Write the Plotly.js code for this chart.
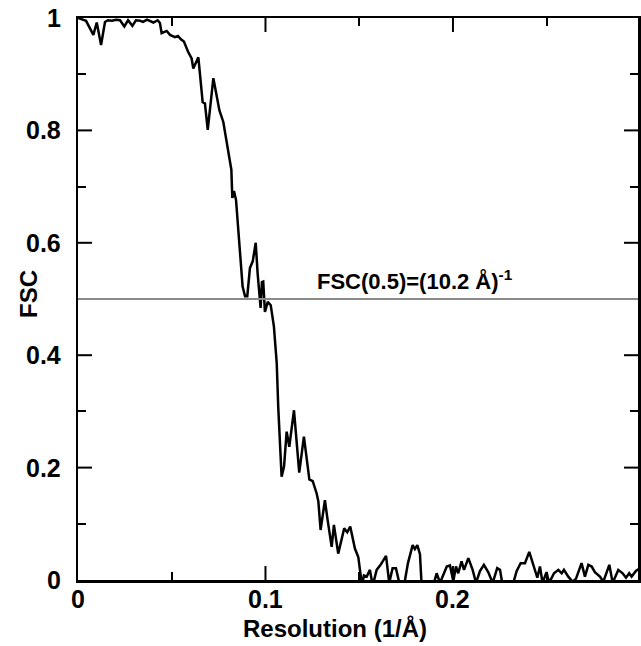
<!DOCTYPE html>
<html>
<head>
<meta charset="utf-8">
<script src="https://cdn.plot.ly/plotly-3.0.1.min.js"></script>
<style>
  html, body { margin: 0; padding: 0; background: #fff; }
  #chart { width: 641px; height: 646px; }
</style>
</head>
<body>
<div id="chart"></div>
<script>
// Resolution (1/Å)
const resolution = [
  0, 0.0021, 0.0043, 0.0082, 0.0100, 0.0123, 0.0144, 0.0160, 0.0181, 0.0203,
  0.0224, 0.0247, 0.0267, 0.0290, 0.0309, 0.0331, 0.0347, 0.0368, 0.0384, 0.0402,
  0.0425, 0.0437, 0.0446, 0.0460, 0.0473, 0.0491, 0.0517, 0.0533, 0.0549, 0.0565,
  0.0587, 0.0606, 0.0615, 0.0642, 0.0665, 0.0677, 0.0692, 0.0722, 0.0754, 0.0775,
  0.0802, 0.0818, 0.0823, 0.0832, 0.0843, 0.0860, 0.0878, 0.0891, 0.0903, 0.0917,
  0.0932, 0.0948, 0.0958, 0.0974, 0.0981, 0.0988, 0.0997, 0.1012, 0.1028, 0.1045,
  0.1060, 0.1068, 0.1077, 0.1086, 0.1099, 0.1113, 0.1127, 0.1152, 0.1180, 0.1205,
  0.1234, 0.1252, 0.1273, 0.1282, 0.1294, 0.1317, 0.1330, 0.1353, 0.1365, 0.1388,
  0.1420, 0.1436, 0.1452, 0.1477, 0.1495, 0.1508, 0.1515, 0.1525, 0.1540, 0.1557,
  0.1572, 0.1593, 0.1614, 0.1643, 0.1660, 0.1678, 0.1696, 0.1717, 0.1739, 0.1760,
  0.1785, 0.1797, 0.1810, 0.1824, 0.1833, 0.1861, 0.1895, 0.1913, 0.1931, 0.1967,
  0.1984, 0.2002, 0.2016, 0.2028, 0.2046, 0.2059, 0.2082, 0.2105, 0.2123, 0.2144,
  0.2165, 0.2188, 0.2197, 0.2212, 0.2236, 0.2251, 0.2265, 0.2293, 0.2322, 0.2340,
  0.2361, 0.2384, 0.2407, 0.2425, 0.2437, 0.2450, 0.2464, 0.2478, 0.2499, 0.2513,
  0.2539, 0.2562, 0.2580, 0.2592, 0.2615, 0.2638, 0.2656, 0.2686, 0.2704, 0.2722,
  0.2740, 0.2757, 0.2784, 0.2802, 0.2834, 0.2852, 0.2882, 0.2905, 0.2923, 0.2940,
  0.2953, 0.2976, 0.2997
];
// FSC values
const fsc = [
  1.000, 0.998, 0.995, 0.970, 0.992, 0.952, 0.993, 0.996, 0.995, 0.997,
  0.996, 0.985, 0.996, 0.986, 0.996, 0.995, 0.993, 0.997, 0.995, 0.992,
  0.996, 0.991, 0.973, 0.975, 0.977, 0.970, 0.966, 0.968, 0.962, 0.958,
  0.940, 0.928, 0.910, 0.930, 0.850, 0.848, 0.801, 0.893, 0.836, 0.815,
  0.765, 0.730, 0.680, 0.692, 0.676, 0.593, 0.522, 0.505, 0.505, 0.555,
  0.567, 0.600, 0.546, 0.484, 0.530, 0.531, 0.477, 0.495, 0.489, 0.451,
  0.386, 0.308, 0.237, 0.184, 0.202, 0.264, 0.237, 0.302, 0.191, 0.255,
  0.179, 0.176, 0.154, 0.140, 0.089, 0.142, 0.110, 0.059, 0.098, 0.047,
  0.092, 0.085, 0.095, 0.056, 0.041, 0.012, -0.010, 0.008, 0.006, 0.018,
  -0.010, 0.018, 0.027, 0.043, -0.005, 0.021, 0.021, -0.010, -0.010, 0.030,
  0.062, 0.055, 0.062, 0.046, -0.010, -0.020, -0.010, 0.012, -0.005, 0.024,
  0.026, -0.002, 0.024, 0.012, 0.033, 0.018, 0.039, 0.018, -0.005, 0.016,
  0.027, 0.014, 0.008, -0.005, 0.021, 0.018, -0.010, -0.020, -0.005, 0.016,
  0.030, 0.030, 0.050, 0.030, 0.014, 0.004, 0.024, -0.005, 0.014, -0.005,
  0.012, 0.018, 0.012, 0.018, 0.006, -0.003, 0.002, 0.030, 0.006, 0.027,
  0.024, 0.014, 0.006, -0.003, 0.027, -0.005, 0.018, 0.012, 0.004, 0.012,
  0.006, 0.016, 0.021
];
const thresholdValue = 0.5;
const annotationText = 'FSC(0.5)=(10.2 Å)<sup>-1</sup>';
const xTitle = 'Resolution (1/Å)';
const yTitle = 'FSC';
const xMajorTicks = [0, 0.1, 0.2];
const xTickLabels = ['0', '0.1', '0.2'];
const xMinorTicks = [0.05, 0.15, 0.25];
const yMajorTicks = [0, 0.2, 0.4, 0.6, 0.8, 1];
const yTickLabels = ['0', '0.2', '0.4', '0.6', '0.8', '1'];
const yMinorTicks = [0.1, 0.3, 0.5, 0.7, 0.9];

const FONT = 'Liberation Sans, Arial, Helvetica, sans-serif';
const X_RANGE = [0, 0.2987];
const Y_RANGE = [0, 1];
const W = 641, H = 646;
const MARGIN = { l: 78, r: 3, t: 18, b: 66 };
const MAJOR_LEN_PX = 14;

const trace = {
  x: resolution,
  y: fsc,
  type: 'scatter',
  mode: 'lines',
  line: { color: '#000', width: 2.5 },
  hoverinfo: 'skip'
};

// Major tick marks drawn as short line segments on the main axes (inside, all four sides)
const plotW = W - MARGIN.l - MARGIN.r;
const plotH = H - MARGIN.t - MARGIN.b;
const tickLenX = MAJOR_LEN_PX * (X_RANGE[1] - X_RANGE[0]) / plotW;
const tickLenY = MAJOR_LEN_PX * (Y_RANGE[1] - Y_RANGE[0]) / plotH;
const xMajorInner = xMajorTicks.filter(v => v > X_RANGE[0] && v < X_RANGE[1]);
const yMajorInner = yMajorTicks.filter(v => v > Y_RANGE[0] && v < Y_RANGE[1]);
const tickX = [], tickY = [];
xMajorInner.forEach(v => {
  tickX.push(v, v, null, v, v, null);
  tickY.push(Y_RANGE[0], Y_RANGE[0] + tickLenY, null, Y_RANGE[1], Y_RANGE[1] - tickLenY, null);
});
yMajorInner.forEach(v => {
  tickX.push(X_RANGE[0], X_RANGE[0] + tickLenX, null, X_RANGE[1], X_RANGE[1] - tickLenX, null);
  tickY.push(v, v, null, v, v, null);
});
const majorTickTrace = {
  x: tickX, y: tickY,
  type: 'scatter', mode: 'lines',
  line: { color: '#000', width: 2 },
  connectgaps: false,
  hoverinfo: 'skip'
};

// Invisible trace registering the tick-only overlay axes (minor ticks)
const helperMinor = {
  x: [X_RANGE[0]], y: [Y_RANGE[0]], xaxis: 'x3', yaxis: 'y3',
  type: 'scatter', mode: 'markers', marker: { opacity: 0 }, hoverinfo: 'skip'
};

const tickFont = { family: FONT, size: 25, color: '#000', weight: 'bold' };
const titleFont = { family: FONT, size: 24, color: '#000', weight: 'bold' };

function tickAxis(overlay, anchor, vals, len) {
  return {
    overlaying: overlay, anchor: anchor,
    range: overlay === 'x' ? X_RANGE : Y_RANGE,
    tickmode: 'array', tickvals: vals, showticklabels: false,
    ticks: 'inside', ticklen: len, tickwidth: 2, tickcolor: '#000',
    mirror: 'ticks', showline: false, showgrid: false, zeroline: false
  };
}

// Tick labels
const tickLabelAnns = [];
xMajorTicks.forEach((v, i) => {
  tickLabelAnns.push({
    xref: 'x', yref: 'paper', x: v, y: 0, yshift: -3,
    xanchor: 'center', yanchor: 'top', showarrow: false,
    text: xTickLabels[i], font: tickFont
  });
});
yMajorTicks.forEach((v, i) => {
  tickLabelAnns.push({
    xref: 'paper', yref: 'y', x: 0, y: v, xshift: -15,
    xanchor: 'right', yanchor: 'middle', showarrow: false,
    text: yTickLabels[i], font: tickFont
  });
});

const layout = {
  width: W,
  height: H,
  margin: MARGIN,
  paper_bgcolor: '#fff',
  plot_bgcolor: 'rgba(0,0,0,0)',
  showlegend: false,
  xaxis: {
    range: X_RANGE, showticklabels: false, ticks: '',
    showline: true, linecolor: '#000', linewidth: 2.5, mirror: true,
    showgrid: false, zeroline: false
  },
  yaxis: {
    range: Y_RANGE, showticklabels: false, ticks: '',
    showline: true, linecolor: '#000', linewidth: 2.5, mirror: true,
    showgrid: false, zeroline: false
  },
  xaxis3: tickAxis('x', 'y3', xMinorTicks, 8),
  yaxis3: tickAxis('y', 'x3', yMinorTicks, 8),
  shapes: [{
    type: 'line',
    xref: 'paper', yref: 'y',
    x0: 0, x1: 1, y0: thresholdValue, y1: thresholdValue,
    line: { color: '#8a8a8a', width: 2 }
  }],
  annotations: [
    {
      xref: 'x', yref: 'y',
      x: 0.180, y: 0.5,
      yshift: 3,
      yanchor: 'bottom',
      xanchor: 'center',
      showarrow: false,
      text: annotationText,
      font: { family: FONT, size: 22, color: '#000', weight: 'bold' }
    },
    {
      xref: 'paper', yref: 'paper',
      x: 0.459, y: 0,
      yshift: -48,
      xanchor: 'center', yanchor: 'middle',
      showarrow: false,
      text: xTitle,
      font: titleFont
    },
    {
      xref: 'paper', yref: 'paper',
      x: 0, y: 0.5,
      xshift: -50, yshift: 5,
      xanchor: 'center', yanchor: 'middle',
      textangle: -90,
      showarrow: false,
      text: yTitle,
      font: titleFont
    }
  ].concat(tickLabelAnns)
};

Plotly.newPlot('chart', [trace, majorTickTrace, helperMinor], layout,
  { displayModeBar: false, staticPlot: true });
</script>
</body>
</html>
